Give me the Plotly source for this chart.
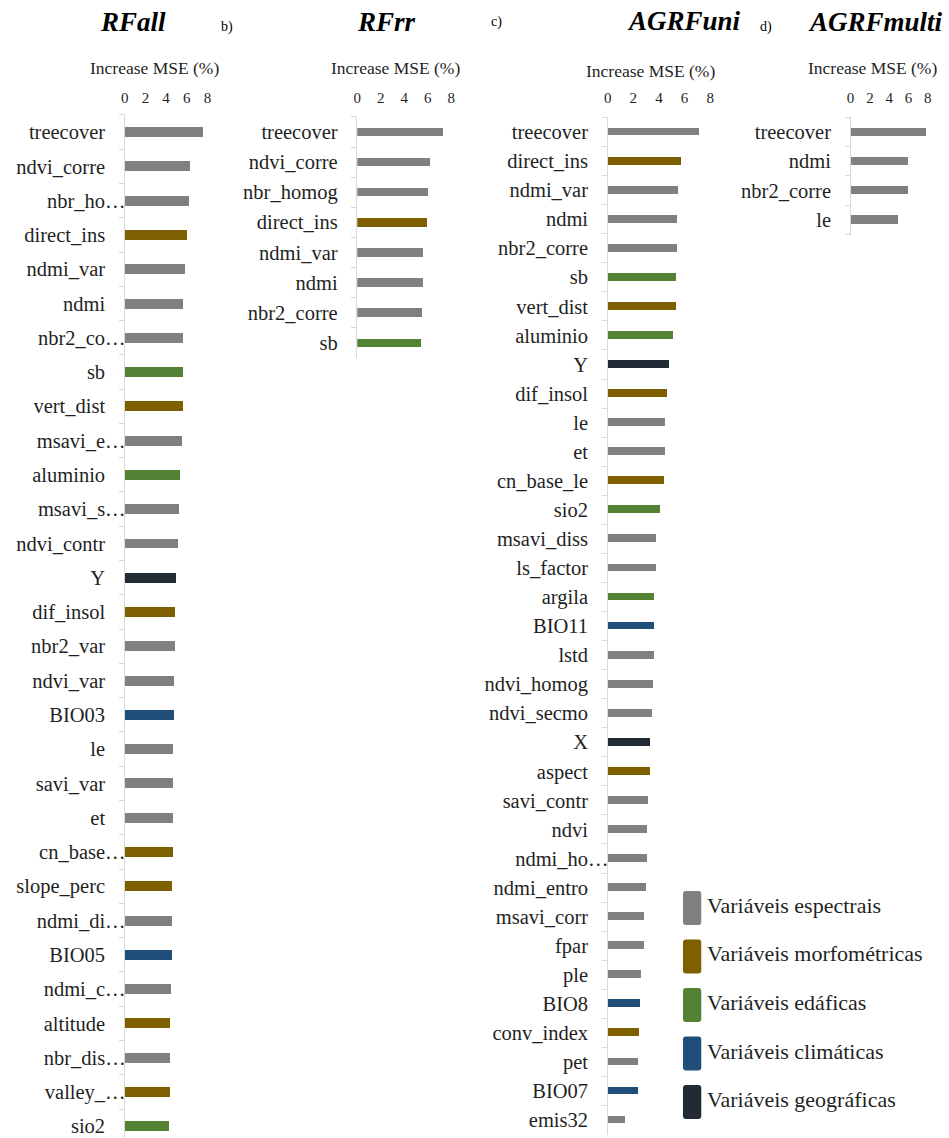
import plotly.graph_objects as go

W, H = 949, 1138
FONT = "Liberation Serif"
TXT = "#1f1f1f"
AXIS_GRAY = "#d9d9d9"

# Variable groups and their colours
group_keys = ["esp", "morf", "edaf", "clim", "geo"]
group_names = ["Variáveis espectrais", "Variáveis morfométricas", "Variáveis edáficas",
               "Variáveis climáticas", "Variáveis geográficas"]
group_colors = ["#808080", "#7f6000", "#548235", "#1f4e79", "#222a35"]

x_ticks = [0, 2, 4, 6, 8]

# a) RFall
rfall_vars = ["treecover", "ndvi_corre", "nbr_ho…", "direct_ins", "ndmi_var", "ndmi", "nbr2_co…",
              "sb", "vert_dist", "msavi_e…", "aluminio", "msavi_s…", "ndvi_contr", "Y",
              "dif_insol", "nbr2_var", "ndvi_var", "BIO03", "le", "savi_var", "et", "cn_base…",
              "slope_perc", "ndmi_di…", "BIO05", "ndmi_c…", "altitude", "nbr_dis…", "valley_…", "sio2"]
rfall_mse = [7.55, 6.27, 6.17, 6.01, 5.79, 5.65, 5.65, 5.60, 5.60, 5.56, 5.34, 5.24, 5.14, 4.98,
             4.86, 4.83, 4.76, 4.76, 4.69, 4.69, 4.66, 4.66, 4.50, 4.50, 4.50, 4.47, 4.40, 4.31,
             4.31, 4.25]
rfall_grp = ["esp", "esp", "esp", "morf", "esp", "esp", "esp", "edaf", "morf", "esp", "edaf", "esp",
             "esp", "geo", "morf", "esp", "esp", "clim", "esp", "esp", "esp", "morf", "morf", "esp",
             "clim", "esp", "morf", "esp", "morf", "edaf"]

# b) RFrr
rfrr_vars = ["treecover", "ndvi_corre", "nbr_homog", "direct_ins", "ndmi_var", "ndmi", "nbr2_corre", "sb"]
rfrr_mse = [7.33, 6.18, 6.06, 5.95, 5.62, 5.59, 5.53, 5.45]
rfrr_grp = ["esp", "esp", "esp", "morf", "esp", "esp", "esp", "edaf"]

# c) AGRFuni
agrfuni_vars = ["treecover", "direct_ins", "ndmi_var", "ndmi", "nbr2_corre", "sb", "vert_dist",
                "aluminio", "Y", "dif_insol", "le", "et", "cn_base_le", "sio2", "msavi_diss",
                "ls_factor", "argila", "BIO11", "lstd", "ndvi_homog", "ndvi_secmo", "X", "aspect",
                "savi_contr", "ndvi", "ndmi_ho…", "ndmi_entro", "msavi_corr", "fpar", "ple", "BIO8",
                "conv_index", "pet", "BIO07", "emis32"]
agrfuni_mse = [7.12, 5.70, 5.44, 5.36, 5.36, 5.29, 5.29, 5.05, 4.74, 4.61, 4.46, 4.46, 4.40, 4.07,
               3.74, 3.74, 3.58, 3.58, 3.55, 3.50, 3.45, 3.27, 3.27, 3.14, 3.06, 3.06, 2.93, 2.81,
               2.81, 2.60, 2.52, 2.42, 2.36, 2.36, 1.30]
agrfuni_grp = ["esp", "morf", "esp", "esp", "esp", "edaf", "morf", "edaf", "geo", "morf", "esp", "esp",
               "morf", "edaf", "esp", "esp", "edaf", "clim", "esp", "esp", "esp", "geo", "morf", "esp",
               "esp", "esp", "esp", "esp", "esp", "esp", "clim", "morf", "esp", "clim", "esp"]

# d) AGRFmulti
agrfmulti_vars = ["treecover", "ndmi", "nbr2_corre", "le"]
agrfmulti_mse = [7.8, 5.9, 5.9, 4.9]
agrfmulti_grp = ["esp", "esp", "esp", "esp"]


def px(x):
    return x / W


def py(y):
    return 1 - y / H


color_of = dict(zip(group_keys, group_colors))

# panel geometry in pixels: zero of x axis, px per unit, top of first band, row pitch, bar width
panels = [
    dict(vars=rfall_vars, mse=rfall_mse, grp=rfall_grp, x0=121.5, k=10.4, top=114.9, pitch=34.28, bw=0.29),
    dict(vars=rfrr_vars, mse=rfrr_mse, grp=rfrr_grp, x0=355.5, k=11.84, top=116.95, pitch=30.1, bw=0.28),
    dict(vars=agrfuni_vars, mse=agrfuni_mse, grp=agrfuni_grp, x0=607.5, k=12.9, top=117.47, pitch=29.06, bw=0.27),
    dict(vars=agrfmulti_vars, mse=agrfmulti_mse, grp=agrfmulti_grp, x0=852.0, k=9.7, top=117.35, pitch=29.3, bw=0.28),
]

XMAX = 8.2
PAD = "\u2003"  # keeps full names aligned with truncated ones whose ellipsis overhangs

fig = go.Figure()
layout = {}
for i, p in enumerate(panels, start=1):
    xa = "x" if i == 1 else f"x{i}"
    ya = "y" if i == 1 else f"y{i}"
    n = len(p["vars"])
    fig.add_trace(go.Bar(
        x=p["mse"], y=p["vars"], orientation="h",
        marker=dict(color=[color_of[g] for g in p["grp"]], line=dict(width=0)),
        width=p["bw"], xaxis=xa, yaxis=ya, showlegend=False, hoverinfo="x+y",
    ))
    bottom_px = min(H, p["top"] + n * p["pitch"])
    y_low = (bottom_px - p["top"]) / p["pitch"] - 0.5
    ticktext = [v if v.endswith("…") else v + PAD for v in p["vars"]]
    layout["xaxis" if i == 1 else f"xaxis{i}"] = dict(
        domain=[px(p["x0"]), px(p["x0"] + XMAX * p["k"])], range=[0, XMAX],
        side="top", anchor="free", position=py(106),
        tickmode="array", tickvals=x_ticks, ticks="", showline=False, showgrid=False,
        zeroline=False, tickfont=dict(family=FONT, size=15, color=TXT), fixedrange=True,
    )
    layout["yaxis" if i == 1 else f"yaxis{i}"] = dict(
        domain=[py(bottom_px), py(p["top"])], anchor=xa, type="category",
        categoryorder="array", categoryarray=p["vars"], range=[y_low, -0.5],
        tickmode="array", tickvals=p["vars"], ticktext=ticktext,
        showline=True, linecolor=AXIS_GRAY, linewidth=1,
        ticks="outside", ticklen=5, tickcolor=AXIS_GRAY, tickson="boundaries",
        ticklabelstandoff=-6,
        showgrid=False, zeroline=False, tickfont=dict(family=FONT, size=20.5, color=TXT),
        fixedrange=True,
    )

annotations = []
# panel titles and letters
for text, x, y, size in [("<b><i>RFall</i></b>", 130, 22, 27), ("<b><i>RFrr</i></b>", 385, 22, 27),
                         ("<b><i>AGRFuni</i></b>", 684, 21, 27), ("<b><i>AGRFmulti</i></b>", 877, 22, 27),
                         ("b)", 224, 27, 14), ("c)", 496, 22, 14), ("d)", 767, 27, 14)]:
    annotations.append(dict(text=text, x=px(x), y=py(y), xref="paper", yref="paper",
                            xanchor="center", yanchor="middle", showarrow=False,
                            font=dict(family=FONT, size=size, color="#000000")))
for x, y in [(151, 68), (394, 68), (651, 71), (874, 68)]:
    annotations.append(dict(text="Increase MSE (%)", x=px(x), y=py(y), xref="paper", yref="paper",
                            xanchor="center", yanchor="middle", showarrow=False,
                            font=dict(family=FONT, size=17.5, color=TXT)))

# legend: rounded colour swatches with labels
shapes = []
leg_x0, leg_x1 = 683.3, 701.7
leg_centers = [908, 956.5, 1005, 1053.5, 1102]
r = 3.0
for name, col, cy in zip(group_names, group_colors, leg_centers):
    y0, y1 = cy - 17, cy + 17
    pts = [
        ("M", leg_x0 + r, y0), ("L", leg_x1 - r, y0), ("Q", leg_x1, y0, leg_x1, y0 + r),
        ("L", leg_x1, y1 - r), ("Q", leg_x1, y1, leg_x1 - r, y1), ("L", leg_x0 + r, y1),
        ("Q", leg_x0, y1, leg_x0, y1 - r), ("L", leg_x0, y0 + r), ("Q", leg_x0, y0, leg_x0 + r, y0),
    ]
    path = ""
    for seg in pts:
        cmd = seg[0]
        coords = seg[1:]
        parts = []
        for j in range(0, len(coords), 2):
            parts.append(f"{px(coords[j]):.5f},{py(coords[j + 1]):.5f}")
        path += cmd + " " + " ".join(parts) + " "
    shapes.append(dict(type="path", path=path + "Z", xref="paper", yref="paper",
                       fillcolor=col, line=dict(width=0)))
    annotations.append(dict(text=name, x=px(705), y=py(cy - 2.5), xref="paper", yref="paper",
                            xanchor="left", yanchor="middle", showarrow=False,
                            font=dict(family=FONT, size=22, color=TXT)))

fig.update_layout(
    width=W, height=H, margin=dict(l=0, r=0, t=0, b=0),
    paper_bgcolor="white", plot_bgcolor="white",
    annotations=annotations, shapes=shapes, bargap=0, **layout,
)
fig.write_html("out.html")
